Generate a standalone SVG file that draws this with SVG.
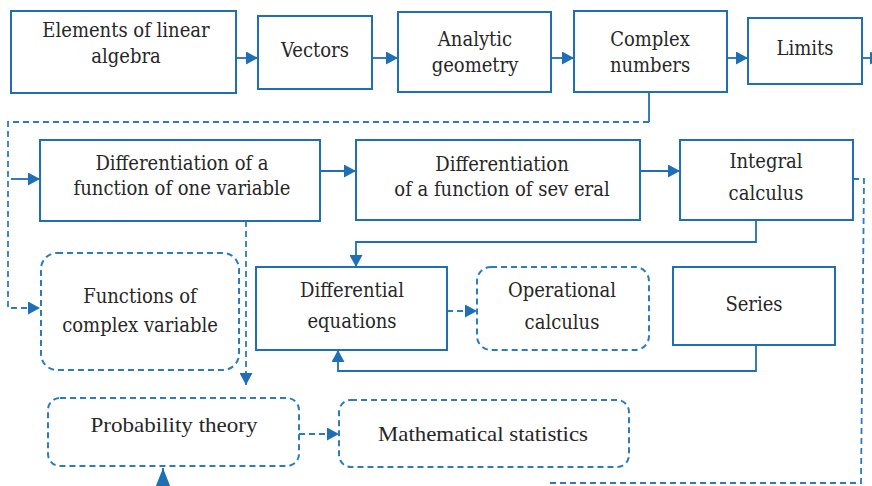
<svg xmlns="http://www.w3.org/2000/svg" width="872" height="486" viewBox="0 0 872 486">
<style>
.box{fill:#fff;stroke:#1E6FB6;stroke-width:2}
.dbox{fill:#fff;stroke:#2A7BC2;stroke-width:2;stroke-dasharray:6 4}
.c{fill:none;stroke:#1E6FB6;stroke-width:1.8}
.cd{fill:none;stroke:#2A7BC2;stroke-width:1.8;stroke-dasharray:6 4}
text{font-family:"DejaVu Serif Condensed","DejaVu Serif","Liberation Serif",serif;font-stretch:condensed;font-size:20px;fill:#262626;text-anchor:middle}
.n{font-family:"Liberation Serif",serif;font-stretch:normal;font-size:21px}
</style>
<defs>
<marker id="a" markerUnits="userSpaceOnUse" markerWidth="13" markerHeight="13" refX="12" refY="6.5" orient="auto">
<path d="M0,0 L12,6.5 L0,13 z" fill="#1E6FB6"/>
</marker>
<marker id="b" markerUnits="userSpaceOnUse" markerWidth="20" markerHeight="15" refX="19" refY="7.5" orient="auto">
<path d="M0,0 L19,7.5 L0,15 z" fill="#1E6FB6"/>
</marker>
</defs>
<rect width="872" height="486" fill="#fff"/>
<g id="connectors">
<path class="c" d="M236,58 H258" marker-end="url(#a)"/>
<path class="c" d="M372,58 H398" marker-end="url(#a)"/>
<path class="c" d="M551,58 H574" marker-end="url(#a)"/>
<path class="c" d="M727,58 H748" marker-end="url(#a)"/>
<path class="c" d="M862,58 H882" marker-end="url(#a)"/>
<path class="c" d="M649,92 V122"/>
<path class="cd" d="M649,122 H8 V308 H40" marker-end="url(#a)"/>
<path class="c" d="M11,179 H40" marker-end="url(#a)"/>
<path class="c" d="M320,171 H356" marker-end="url(#a)"/>
<path class="c" d="M640,171 H680" marker-end="url(#a)"/>
<path class="c" d="M756,220 V242 H356 V267" marker-end="url(#a)"/>
<path class="cd" d="M246,221 V385" marker-end="url(#a)"/>
<path class="cd" d="M447,311 H477" marker-end="url(#a)"/>
<path class="c" d="M756,345 V371 H338 V350" marker-end="url(#a)"/>
<path class="cd" d="M299,434 H339" marker-end="url(#a)"/>
<path class="cd" d="M853,179 H864 L861,483 H550"/>
<path class="c" d="M163,500 V468" marker-end="url(#b)"/>
</g>
<g id="n1"><rect class="box" x="11" y="11" width="225" height="82"/><text x="126" y="37">Elements of linear</text><text x="126" y="63">algebra</text></g>
<g id="n2"><rect class="box" x="258" y="16" width="114" height="73"/><text x="315" y="57">Vectors</text></g>
<g id="n3"><rect class="box" x="398" y="12" width="153" height="80"/><text x="475" y="46">Analytic</text><text x="475" y="72">geometry</text></g>
<g id="n4"><rect class="box" x="574" y="11" width="153" height="81"/><text x="650" y="46">Complex</text><text x="650" y="72">numbers</text></g>
<g id="n5"><rect class="box" x="748" y="18" width="114" height="66"/><text x="805" y="55">Limits</text></g>
<g id="n6"><rect class="box" x="40" y="140" width="280" height="81"/><text x="182" y="170">Differentiation of a</text><text x="182" y="195">function of one variable</text></g>
<g id="n7"><rect class="box" x="356" y="140" width="284" height="80"/><text x="502" y="171">Differentiation</text><text x="502" y="196">of a function of sev eral</text></g>
<g id="n8"><rect class="box" x="680" y="140" width="173" height="80"/><text x="766" y="168">Integral</text><text x="766" y="200">calculus</text></g>
<g id="n9"><rect class="dbox" x="41" y="253" width="198" height="117" rx="16"/><text x="140" y="303">Functions of</text><text x="140" y="332">complex variable</text></g>
<g id="n10"><rect class="box" x="256" y="267" width="191" height="83"/><text x="352" y="297">Differential</text><text x="352" y="328">equations</text></g>
<g id="n11"><rect class="dbox" x="477" y="267" width="172" height="83" rx="14"/><text x="562" y="297">Operational</text><text x="562" y="329">calculus</text></g>
<g id="n12"><rect class="box" x="673" y="267" width="162" height="78"/><text x="754" y="311">Series</text></g>
<g id="n13"><rect class="dbox" x="48" y="398" width="251" height="68" rx="12"/><text class="n" x="174" y="432" textLength="167" lengthAdjust="spacingAndGlyphs">Probability theory</text></g>
<g id="n14"><rect class="dbox" x="339" y="400" width="290" height="67" rx="12"/><text class="n" x="483" y="441" textLength="210" lengthAdjust="spacingAndGlyphs">Mathematical statistics</text></g>
</svg>
